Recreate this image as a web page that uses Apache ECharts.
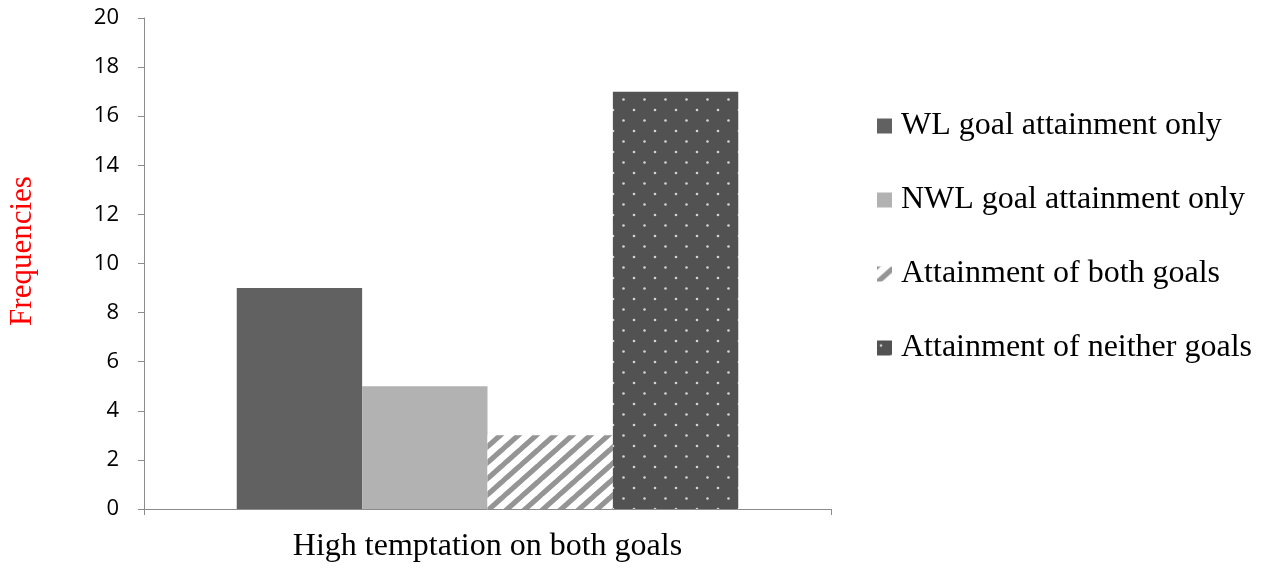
<!DOCTYPE html>
<html>
<head>
<meta charset="utf-8">
<script src="https://cdn.jsdelivr.net/npm/echarts@6/dist/echarts.min.js"></script>
<style>
  html, body { margin: 0; padding: 0; background: #ffffff; }
  #chart { width: 1261px; height: 568px; }
</style>
</head>
<body>
<div id="chart"></div>
<script>
// Data
const categories = ['High temptation on both goals'];
const seriesNames = [
  'WL goal attainment only',
  'NWL goal attainment only',
  'Attainment of both goals',
  'Attainment of neither goals'
];
const wlOnly = [9];
const nwlOnly = [5];
const bothGoals = [3];
const neitherGoals = [17];
const yTicks = { min: 0, max: 20, interval: 2 };

// Fill textures
function stripePattern() {
  const w = 18, h = 16;
  const c = document.createElement('canvas');
  c.width = w; c.height = h;
  const g = c.getContext('2d');
  g.fillStyle = '#ffffff';
  g.fillRect(0, 0, w, h);
  g.strokeStyle = '#959595';
  g.lineWidth = 5.2;
  for (let k = -1; k <= 1; k++) {
    g.beginPath();
    g.moveTo(k * w - w * 0.1, h + h * 0.1);
    g.lineTo(k * w + w * 1.1, -h * 0.1);
    g.stroke();
  }
  return { image: c, repeat: 'repeat' };
}

function dotPattern() {
  const w = 21, h = 21;
  const c = document.createElement('canvas');
  c.width = w; c.height = h;
  const g = c.getContext('2d');
  g.fillStyle = '#525252';
  g.fillRect(0, 0, w, h);
  g.fillStyle = '#d4d4d4';
  [[4, 5], [14.5, 15.5]].forEach(([x, y]) => {
    g.beginPath();
    g.arc(x, y, 1.3, 0, Math.PI * 2);
    g.fill();
  });
  return { image: c, repeat: 'repeat' };
}

const serif = '"Liberation Serif", "Times New Roman", serif';
const sans = '"Open Sans", "Liberation Sans", sans-serif';

const chart = echarts.init(document.getElementById('chart'), null, { renderer: 'canvas' });

const fills = ['#616161', '#b2b2b2', stripePattern(), dotPattern()];
const values = [wlOnly, nwlOnly, bothGoals, neitherGoals];

chart.setOption({
  animation: false,
  backgroundColor: '#ffffff',
  grid: { left: 144, right: 430, top: 18, bottom: 59 },
  legend: {
    orient: 'vertical',
    left: 872,
    top: 104,
    icon: 'rect',
    itemWidth: 15,
    itemHeight: 15,
    itemGap: 40,
    textStyle: {
      fontFamily: serif,
      fontSize: 32,
      color: '#000000',
      lineHeight: 34,
      padding: [0, 0, 0, 4]
    },
    data: seriesNames
  },
  xAxis: {
    type: 'category',
    data: categories,
    axisLine: { lineStyle: { color: '#8c8c8c', width: 1 } },
    axisTick: { show: true, length: 6, lineStyle: { color: '#8c8c8c' } },
    axisLabel: {
      fontFamily: serif,
      fontSize: 32,
      color: '#000000',
      margin: 22
    }
  },
  yAxis: {
    type: 'value',
    min: yTicks.min,
    max: yTicks.max,
    interval: yTicks.interval,
    axisLine: { show: true, lineStyle: { color: '#8c8c8c', width: 1 } },
    axisTick: { show: true, length: 6, lineStyle: { color: '#8c8c8c' } },
    splitLine: { show: false },
    axisLabel: {
      fontFamily: sans,
      fontSize: 22,
      color: '#000000',
      margin: 25
    }
  },
  graphic: [{
    type: 'text',
    x: 23,
    y: 251,
    rotation: Math.PI / 2,
    style: {
      text: 'Frequencies',
      fontFamily: serif,
      fontSize: 31,
      fill: '#ff0000',
      align: 'center',
      verticalAlign: 'middle'
    }
  }],
  series: seriesNames.map((name, i) => ({
    name: name,
    type: 'bar',
    data: values[i],
    barGap: '0%',
    barCategoryGap: '27%',
    itemStyle: { color: fills[i] }
  }))
});
</script>
</body>
</html>
